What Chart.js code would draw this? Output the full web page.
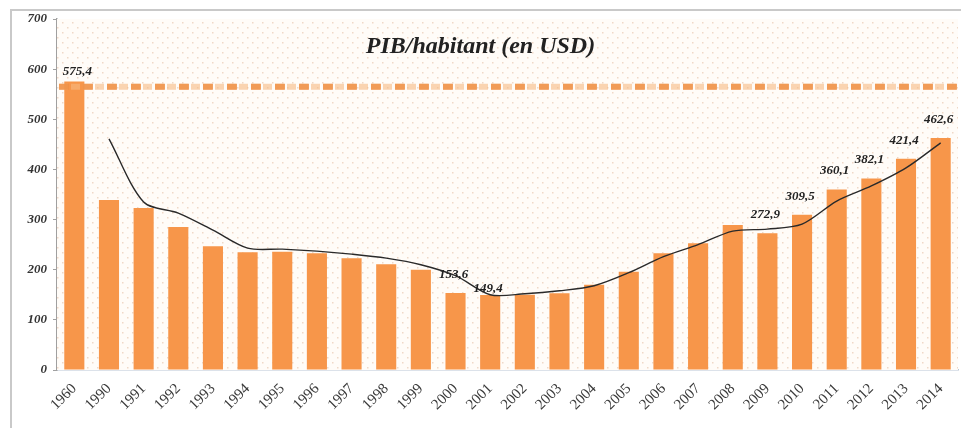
<!DOCTYPE html>
<html>
<head>
<meta charset="utf-8">
<script src="https://cdn.jsdelivr.net/npm/chart.js@4.4.1/dist/chart.umd.min.js"></script>
<style>
  html, body { margin: 0; padding: 0; background: #fff; }
  #wrap { position: relative; width: 961px; height: 428px; }
  #frame { position: absolute; left: 10px; top: 9px; right: -4px; bottom: -4px;
           border-top: 2px solid #c9c9c9; border-left: 2px solid #c9c9c9; }
  canvas { position: absolute; left: 0; top: 0; }
</style>
</head>
<body>
<div id="wrap">
  <div id="frame"></div>
  <canvas id="chart" width="961" height="428"></canvas>
</div>
<script>
/* --- Data --- */
const years = ['1960', '1990', '1991', '1992', '1993', '1994', '1995', '1996', '1997',
  '1998', '1999', '2000', '2001', '2002', '2003', '2004', '2005', '2006', '2007',
  '2008', '2009', '2010', '2011', '2012', '2013', '2014'];
const gdpPerCapita = [575.4, 339, 323, 285, 247, 235, 236, 233, 223, 211, 200, 153.6,
  149.4, 150, 153, 170, 196, 233, 253, 289, 272.9, 309.5, 360.1, 382.1, 421.4, 462.6];
const trend = [null, 461, 335, 313, 279, 243, 241, 237, 231, 223, 210, 188, 150, 152,
  158, 168, 194, 226, 250, 277, 281, 291, 337, 367, 403, 453];
const refLevel = 565;
const yTicks = [0, 100, 200, 300, 400, 500, 600, 700];
const labelledYears = ['1960', '2000', '2001', '2009', '2010', '2011', '2012', '2013', '2014'];

/* --- Dotted background pattern --- */
function makePattern() {
  const c = document.createElement('canvas');
  c.width = 10; c.height = 10;
  const g = c.getContext('2d');
  g.fillStyle = '#fffcf8';
  g.fillRect(0, 0, 10, 10);
  g.fillStyle = 'rgba(225,180,150,0.5)';
  g.fillRect(2, 2, 1.5, 1.5);
  g.fillRect(7, 7, 1.5, 1.5);
  return g.createPattern(c, 'repeat');
}

const plotDecor = {
  id: 'plotDecor',
  beforeDatasetsDraw(chart) {
    const { ctx, chartArea: a } = chart;
    ctx.save();
    ctx.fillStyle = makePattern();
    ctx.fillRect(a.left, a.top, a.right - a.left, a.bottom - a.top);
    ctx.restore();
  },
  afterDatasetsDraw(chart) {
    const { ctx, chartArea: a, scales } = chart;
    const y = scales.y.getPixelForValue(refLevel);
    ctx.save();
    // dashed reference level: pale under-stroke + darker dashes
    ctx.lineWidth = 6;
    ctx.strokeStyle = 'rgba(246,185,130,0.6)';
    ctx.setLineDash([9, 3]);
    ctx.beginPath();
    ctx.moveTo(a.left + 2, y);
    ctx.lineTo(a.right, y);
    ctx.stroke();
    ctx.strokeStyle = 'rgba(238,145,70,0.85)';
    ctx.setLineDash([10, 14]);
    ctx.beginPath();
    ctx.moveTo(a.left + 2, y);
    ctx.lineTo(a.right, y);
    ctx.stroke();
    ctx.setLineDash([]);

    // title
    ctx.fillStyle = '#222';
    ctx.font = 'italic bold 24px "Liberation Serif", serif';
    ctx.textAlign = 'center';
    ctx.textBaseline = 'middle';
    ctx.fillText('PIB/habitant (en USD)', a.left + (a.right - a.left) * 0.47, 47);

    // value labels
    const meta = chart.getDatasetMeta(0);
    const lift = { '1960': 9, '2001': 6 };
    ctx.font = 'italic bold 13px "Liberation Serif", serif';
    ctx.fillStyle = '#222';
    ctx.textBaseline = 'bottom';
    labelledYears.forEach(yr => {
      const i = years.indexOf(yr);
      const bar = meta.data[i];
      const txt = gdpPerCapita[i].toFixed(1).replace('.', ',');
      const dy = lift[yr] !== undefined ? lift[yr] : 18;
      const dx = yr === '1960' ? 3 : -2;
      ctx.fillText(txt, bar.x + dx, bar.y - dy + 6);
    });
    ctx.restore();
  }
};

new Chart(document.getElementById('chart'), {
  data: {
    labels: years,
    datasets: [
      {
        type: 'bar',
        data: gdpPerCapita,
        backgroundColor: '#f7964a',
        barPercentage: 0.58,
        categoryPercentage: 1,
        order: 2
      },
      {
        type: 'line',
        data: trend,
        borderColor: '#2a2a2a',
        borderWidth: 1.4,
        pointRadius: 0,
        tension: 0.3,
        fill: false,
        order: 1
      }
    ]
  },
  options: {
    responsive: false,
    animation: false,
    layout: { padding: { left: 12, right: 3, top: 19, bottom: 2 } },
    plugins: { legend: { display: false }, tooltip: { enabled: false } },
    scales: {
      x: {
        afterFit: s => { s.height = 56; },
        grid: { display: false },
        border: { display: true, color: '#b9c6d6', width: 1.5 },
        ticks: {
          minRotation: 45, maxRotation: 45, padding: 2,
          color: '#3a3a3a',
          font: { family: '"Liberation Serif", serif', size: 15 }
        }
      },
      y: {
        min: 0, max: 700,
        afterFit: s => { s.width = 45; },
        afterBuildTicks: s => { s.ticks = yTicks.map(v => ({ value: v })); },
        grid: { drawOnChartArea: false, drawTicks: true, tickLength: 4, color: '#a0a0a0' },
        border: { display: true, color: '#a0a0a0', width: 1.5 },
        ticks: {
          padding: 6,
          color: '#333',
          font: { family: '"Liberation Serif", serif', size: 13, style: 'italic', weight: 'bold' }
        }
      }
    }
  },
  plugins: [plotDecor]
});
</script>
</body>
</html>
